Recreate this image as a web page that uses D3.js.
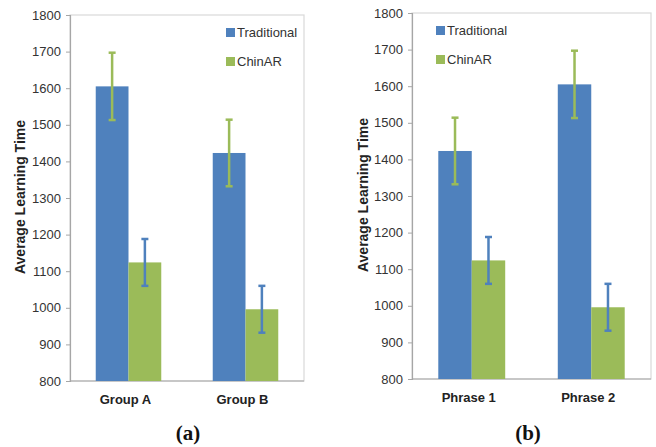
<!DOCTYPE html>
<html>
<head>
<meta charset="utf-8">
<script src="https://cdn.jsdelivr.net/npm/d3@7"></script>
<style>
  body { margin: 0; background: #fff; }
  .tick text { font-family: "Liberation Sans", Arial, sans-serif; font-size: 13px; fill: #333; }
  .axisText { font-family: "Liberation Sans", Arial, sans-serif; font-weight: bold; font-size: 13px; fill: #222; }
  .yTitle { font-family: "Liberation Sans", Arial, sans-serif; font-weight: bold; font-size: 14px; fill: #222; }
  .legendText { font-family: "Liberation Sans", Arial, sans-serif; font-size: 13px; fill: #333; }
  .caption { font-family: "Liberation Serif", "Times New Roman", serif; font-weight: bold; font-size: 21px; fill: #111; }
</style>
</head>
<body>
<div id="chart"></div>
<script>
// Chart values
var seriesNames = ["Traditional", "ChinAR"];
var yTicks = [800, 900, 1000, 1100, 1200, 1300, 1400, 1500, 1600, 1700, 1800];

// (a) groups
var groupsA = ["Group A", "Group B"];
var traditionalA = [1605, 1423];
var chinarA = [1124, 996];
var traditionalErrA = [92, 91];
var chinarErrA = [64, 64];

// (b) phrases
var groupsB = ["Phrase 1", "Phrase 2"];
var traditionalB = [1423, 1605];
var chinarB = [1124, 996];
var traditionalErrB = [91, 92];
var chinarErrB = [64, 64];

var blue = "#4F81BD";
var green = "#9BBB59";

var svgWidth = 656;
var svgHeight = 447;

var svg = d3.select("#chart")
  .append("svg")
  .attr("width", svgWidth)
  .attr("height", svgHeight);

function drawChart(opts) {
  var chartWidth = opts.right - opts.left;
  var chartHeight = opts.bottom - opts.top;

  var chartGroup = svg.append("g")
    .attr("transform", `translate(${opts.left}, ${opts.top})`);

  var rows = opts.groups.map(function(g, i) {
    return {
      name: g,
      values: [
        { key: seriesNames[0], value: opts.trad[i], err: opts.tradErr[i], fill: blue, errColor: green },
        { key: seriesNames[1], value: opts.chin[i], err: opts.chinErr[i], fill: green, errColor: blue }
      ]
    };
  });

  var xBandScale = d3.scaleBand()
    .domain(opts.groups)
    .range([0, chartWidth])
    .paddingInner(0.44)
    .paddingOuter(0.22);

  var xSeries = d3.scaleBand()
    .domain(seriesNames)
    .range([0, xBandScale.bandwidth()]);

  var yLinearScale = d3.scaleLinear()
    .domain([800, 1800])
    .range([chartHeight, 0]);

  // plot frame
  chartGroup.append("rect")
    .attr("x", 0)
    .attr("y", 0)
    .attr("width", chartWidth)
    .attr("height", chartHeight)
    .attr("fill", "none")
    .attr("stroke", "#d9d9d9")
    .attr("stroke-width", 1.2);

  var leftAxis = d3.axisLeft(yLinearScale)
    .tickValues(yTicks)
    .tickSize(4)
    .tickPadding(5)
    .tickFormat(d3.format("d"));

  var yAxis = chartGroup.append("g").call(leftAxis);
  yAxis.select(".domain").attr("stroke", "#a6a6a6").attr("stroke-width", 1.2);
  yAxis.selectAll(".tick line").attr("stroke", "#a6a6a6");

  chartGroup.append("line")
    .attr("x1", 0)
    .attr("x2", chartWidth)
    .attr("y1", chartHeight)
    .attr("y2", chartHeight)
    .attr("stroke", "#a6a6a6")
    .attr("stroke-width", 1.2);

  var cat = chartGroup.selectAll(".cat")
    .data(rows)
    .enter()
    .append("g")
    .attr("class", "cat")
    .attr("transform", d => `translate(${xBandScale(d.name)}, 0)`);

  cat.selectAll(".bar")
    .data(d => d.values)
    .enter()
    .append("rect")
    .attr("class", "bar")
    .attr("x", d => xSeries(d.key))
    .attr("y", d => yLinearScale(d.value))
    .attr("width", xSeries.bandwidth())
    .attr("height", d => chartHeight - yLinearScale(d.value))
    .attr("fill", d => d.fill);

  // error bars
  var err = cat.selectAll(".err")
    .data(d => d.values)
    .enter()
    .append("g")
    .attr("class", "err")
    .attr("stroke", d => d.errColor)
    .attr("stroke-width", 2.5);

  var cx = d => xSeries(d.key) + xSeries.bandwidth() / 2;

  err.append("line")
    .attr("x1", cx)
    .attr("x2", cx)
    .attr("y1", d => yLinearScale(d.value + d.err))
    .attr("y2", d => yLinearScale(d.value - d.err));

  err.append("line")
    .attr("x1", d => cx(d) - 3.5)
    .attr("x2", d => cx(d) + 3.5)
    .attr("y1", d => yLinearScale(d.value + d.err))
    .attr("y2", d => yLinearScale(d.value + d.err));

  err.append("line")
    .attr("x1", d => cx(d) - 3.5)
    .attr("x2", d => cx(d) + 3.5)
    .attr("y1", d => yLinearScale(d.value - d.err))
    .attr("y2", d => yLinearScale(d.value - d.err));

  // category labels
  chartGroup.selectAll(".catLabel")
    .data(opts.groups)
    .enter()
    .append("text")
    .attr("class", "axisText")
    .attr("x", d => xBandScale(d) + xBandScale.bandwidth() / 2 - 3)
    .attr("y", chartHeight + 23)
    .attr("text-anchor", "middle")
    .text(d => d);

  // y axis title
  chartGroup.append("text")
    .attr("class", "yTitle")
    .attr("transform", `translate(${opts.titleX - opts.left}, ${opts.titleY - opts.top}) rotate(-90)`)
    .attr("text-anchor", "middle")
    .attr("dy", "0.35em")
    .text("Average Learning Time");

  // legend
  var legend = chartGroup.selectAll(".legend")
    .data([{ name: seriesNames[0], fill: blue }, { name: seriesNames[1], fill: green }])
    .enter()
    .append("g")
    .attr("class", "legend")
    .attr("transform", (d, i) => `translate(${opts.legendX - opts.left}, ${opts.legendY - opts.top + i * 29})`);

  legend.append("rect")
    .attr("x", 0)
    .attr("y", -4.5)
    .attr("width", 9)
    .attr("height", 9)
    .attr("fill", d => d.fill);

  legend.append("text")
    .attr("class", "legendText")
    .attr("x", 11)
    .attr("y", 0)
    .attr("dy", "0.35em")
    .text(d => d.name);

  svg.append("text")
    .attr("class", "caption")
    .attr("x", opts.captionX)
    .attr("y", 440)
    .attr("text-anchor", "middle")
    .text(opts.caption);
}

drawChart({
  left: 70, right: 304, top: 15, bottom: 381,
  groups: groupsA, trad: traditionalA, chin: chinarA,
  tradErr: traditionalErrA, chinErr: chinarErrA,
  titleX: 20, titleY: 197, legendX: 226, legendY: 32.5,
  caption: "(a)", captionX: 188
});

drawChart({
  left: 412, right: 651, top: 13, bottom: 379,
  groups: groupsB, trad: traditionalB, chin: chinarB,
  tradErr: traditionalErrB, chinErr: chinarErrB,
  titleX: 363, titleY: 195, legendX: 436, legendY: 30.5,
  caption: "(b)", captionX: 528
});
</script>
</body>
</html>
